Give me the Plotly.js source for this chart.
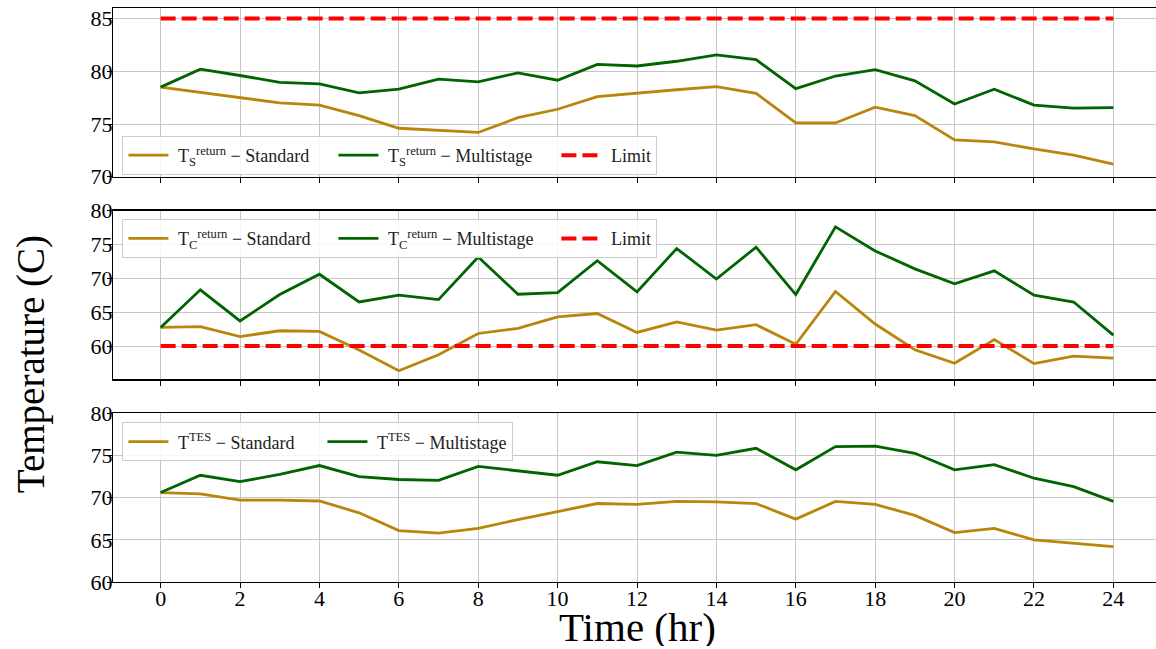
<!DOCTYPE html>
<html>
<head>
<meta charset="utf-8">
<script src="https://cdn.plot.ly/plotly-3.0.1.min.js"></script>
<style>
  html, body { margin: 0; padding: 0; background: #ffffff; overflow: hidden; }
  #chart { width: 1170px; height: 649px; }
</style>
</head>
<body>
<div id="chart"></div>
<script>
// Hourly profile, 0..24 h
const hours = [0, 1, 2, 3, 4, 5, 6, 7, 8, 9, 10, 11, 12, 13, 14, 15, 16, 17, 18, 19, 20, 21, 22, 23, 24];
const hourTicks = [0, 2, 4, 6, 8, 10, 12, 14, 16, 18, 20, 22, 24];

// Supply-side return temperature (C)
const supplyStandard = [78.5, 78.0, 77.5, 77.0, 76.8, 75.8, 74.6, 74.4, 74.2, 75.6, 76.4, 77.6, 77.95,
                        78.25, 78.55, 77.9, 75.1, 75.1, 76.6, 75.8, 73.5, 73.3, 72.65, 72.05, 71.2];
const supplyMultistage = [78.5, 80.2, 79.6, 78.95, 78.8, 77.95, 78.3, 79.25, 79.0, 79.85, 79.15, 80.65, 80.5,
                          80.95, 81.55, 81.1, 78.35, 79.55, 80.15, 79.1, 76.9, 78.3, 76.8, 76.5, 76.55];
const supplyLimit = 85;

// Consumer-side return temperature (C)
const consumerStandard = [62.75, 62.85, 61.4, 62.25, 62.15, 59.4, 56.35, 58.7, 61.85, 62.6, 64.3, 64.8, 62.0,
                          63.55, 62.35, 63.15, 60.25, 68.05, 63.25, 59.45, 57.45, 60.95, 57.4, 58.5, 58.2];
const consumerMultistage = [62.75, 68.3, 63.7, 67.6, 70.6, 66.5, 67.5, 66.85, 73.15, 67.65, 67.9, 72.6, 68.0,
                            74.4, 69.9, 74.6, 67.6, 77.6, 74.05, 71.4, 69.2, 71.1, 67.5, 66.5, 61.6];
const consumerLimit = 60;

// Thermal energy storage temperature (C)
const tesStandard = [70.6, 70.45, 69.7, 69.7, 69.6, 68.2, 66.1, 65.8, 66.35, 67.4, 68.35, 69.3, 69.2,
                     69.55, 69.5, 69.3, 67.45, 69.55, 69.2, 67.9, 65.85, 66.35, 65.0, 64.6, 64.2];
const tesMultistage = [70.6, 72.65, 71.9, 72.75, 73.8, 72.5, 72.15, 72.05, 73.7, 73.15, 72.65, 74.25, 73.8,
                       75.4, 75.0, 75.85, 73.3, 76.05, 76.1, 75.25, 73.3, 73.9, 72.3, 71.3, 69.55];

const limitX = [hours[0], hours[hours.length - 1]];

const GOLD = '#b8860b';
const GREEN = '#006400';
const RED = '#ff0000';
const FONT = 'Liberation Serif';
const PAD = '\u00A0';

function series(x, y, name, color, xa, ya, legend, width, dash, legendwidth) {
  return {
    type: 'scatter', mode: 'lines', x: x, y: y, name: PAD + name,
    xaxis: xa, yaxis: ya, legend: legend, legendwidth: legendwidth,
    line: { color: color, width: width, dash: dash || 'solid' },
    hoverinfo: 'skip'
  };
}

const traces = [
  series(hours, supplyStandard, 'T<sub>S</sub><sup>return</sup> − Standard', GOLD, 'x', 'y', 'legend', 2.8, null, 155),
  series(hours, supplyMultistage, 'T<sub>S</sub><sup>return</sup> − Multistage', GREEN, 'x', 'y', 'legend', 2.8, null, 168),
  series(limitX, [supplyLimit, supplyLimit], 'Limit', RED, 'x', 'y', 'legend', 4, '15px,6px', 0),

  series(hours, consumerStandard, 'T<sub>C</sub><sup>return</sup> − Standard', GOLD, 'x2', 'y2', 'legend2', 2.8, null, 155),
  series(hours, consumerMultistage, 'T<sub>C</sub><sup>return</sup> − Multistage', GREEN, 'x2', 'y2', 'legend2', 2.8, null, 168),
  series(limitX, [consumerLimit, consumerLimit], 'Limit', RED, 'x2', 'y2', 'legend2', 4, '15px,6px', 0),

  series(hours, tesStandard, 'T<sup>TES</sup> − Standard', GOLD, 'x3', 'y3', 'legend3', 2.8, null, 144),
  series(hours, tesMultistage, 'T<sup>TES</sup> − Multistage', GREEN, 'x3', 'y3', 'legend3', 2.8, null, 0)
];

function xAxis(anchor, labels) {
  return {
    anchor: anchor, range: [-1.2, 25.2], tickvals: hourTicks, showticklabels: labels,
    ticks: 'outside', ticklen: 5, tickwidth: 1, tickcolor: '#000', ticklabelstandoff: -9,
    showgrid: true, gridcolor: '#c6c6c6', gridwidth: 1,
    showline: true, linecolor: '#000', linewidth: 1.2, mirror: true,
    zeroline: false, tickfont: { family: FONT, size: 22, color: '#000' }
  };
}
function yAxis(anchor, domain, range, ticks) {
  return {
    anchor: anchor, domain: domain, range: range, tickvals: ticks,
    ticks: 'outside', ticklen: 5, tickwidth: 1, tickcolor: '#000', ticklabelstandoff: -10,
    showgrid: true, gridcolor: '#c6c6c6', gridwidth: 1,
    showline: true, linecolor: '#000', linewidth: 1.2, mirror: true,
    zeroline: false, tickfont: { family: FONT, size: 22, color: '#000' }
  };
}
function legendBox(y) {
  return {
    orientation: 'h', x: 0.009, y: y, xanchor: 'left', yanchor: 'top',
    xref: 'paper', yref: 'paper', itemwidth: 40,
    bgcolor: 'rgba(255,255,255,0.85)', bordercolor: '#cccccc', borderwidth: 1,
    font: { family: FONT, size: 18, color: '#222' }, tracegroupgap: 0
  };
}

const layout = {
  width: 1170, height: 649,
  margin: { l: 113, r: 9, t: 8, b: 67 },
  paper_bgcolor: '#ffffff', plot_bgcolor: '#ffffff',
  showlegend: true,
  font: { family: FONT, color: '#000' },
  xaxis: xAxis('y', false),
  xaxis2: xAxis('y2', false),
  xaxis3: xAxis('y3', true),
  yaxis: yAxis('x', [0.706, 1.0], [70, 86], [70, 75, 80, 85]),
  yaxis2: yAxis('x2', [0.353, 0.647], [55.07, 80], [60, 65, 70, 75, 80]),
  yaxis3: yAxis('x3', [0.0, 0.294], [60, 80], [60, 65, 70, 75, 80]),
  legend: legendBox(0.777),
  legend2: legendBox(0.632),
  legend3: legendBox(0.278),
  annotations: [
    { text: 'Temperature (C)', xref: 'paper', yref: 'paper', x: -0.078, y: 0.38,
      xanchor: 'center', yanchor: 'middle', textangle: -90, showarrow: false,
      font: { family: FONT, size: 39, color: '#000' } },
    { text: 'Time (hr)', xref: 'paper', yref: 'paper', x: 0.5, y: -0.078,
      xanchor: 'center', yanchor: 'middle', height: 38, valign: 'middle', showarrow: false,
      font: { family: FONT, size: 41, color: '#000' } }
  ]
};

Plotly.newPlot('chart', traces, layout, { displayModeBar: false, staticPlot: true });
</script>
</body>
</html>
